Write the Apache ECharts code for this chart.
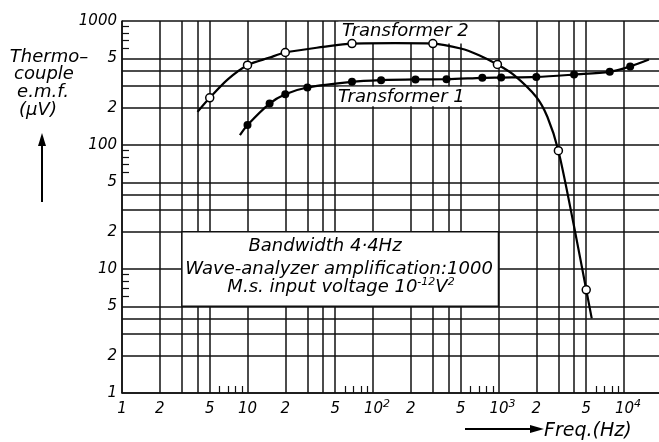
<!DOCTYPE html>
<html>
<head>
<meta charset="utf-8">
<script src="https://cdn.jsdelivr.net/npm/echarts@6/dist/echarts.min.js"></script>
<style>
html, body { margin: 0; padding: 0; background: #fff; }
#chart { width: 659px; height: 442px; }
</style>
</head>
<body>
<div id="chart"></div>
<script>
// Transformer 2 curve (open circles)
var t2CurveFreq = [4, 5, 7, 10, 15, 20, 40, 68, 150, 300, 500, 700, 980, 1330, 2000, 2450, 3000, 4000, 5000, 5530];
var t2CurveVal  = [185, 240, 340, 440, 507, 557, 618, 658, 664, 658, 600, 530, 446, 366, 244, 169, 90, 22, 6.8, 4.0];
var t2DotFreq = [5, 10, 20, 68, 300, 980, 3000, 5000];
var t2DotVal  = [240, 440, 557, 658, 658, 446, 90, 6.8];

// Transformer 1 curve (filled dots)
var t1CurveFreq = [8.7, 10, 15, 20, 30, 68, 116, 218, 385, 743, 1050, 2000, 4000, 7700, 11200, 15800];
var t1CurveVal  = [120, 145, 216, 257, 291, 323, 333, 338, 339, 348, 350, 354, 370, 389, 430, 489];
var t1DotFreq = [10, 15, 20, 30, 68, 116, 218, 385, 743, 1050, 2000, 4000, 7700, 11200];
var t1DotVal  = [145, 216, 257, 291, 323, 333, 338, 339, 348, 350, 354, 370, 389, 430];

// log paper rulings
var xGridValues = [1, 2, 3, 4, 5, 10, 20, 30, 40, 50, 100, 200, 300, 400, 500, 1000, 2000, 3000, 4000, 5000, 10000];
var xMinorValues = [6, 7, 8, 9, 60, 70, 80, 90, 600, 700, 800, 900, 6000, 7000, 8000, 9000];
var xLabelValues = [1, 2, 5, 10, 20, 50, 100, 200, 500, 1000, 2000, 5000, 10000];
var xLabelTexts = ['1', '2', '5', '10', '2', '5', '{p|}10{s|2}', '2', '5', '{p|}10{s|3}', '2', '5', '{p|}10{s|4}'];
var yGridValues = [1, 2, 3, 4, 5, 10, 20, 30, 40, 50, 100, 200, 300, 400, 500, 1000];
var yMinorValues = [6, 7, 8, 9, 60, 70, 80, 90, 600, 700, 800, 900];
var yLabelValues = [1, 2, 5, 10, 20, 50, 100, 200, 500, 1000];
var yLabelTexts = ['1', '2', '5', '10', '2', '5', '100', '2', '5', '1000'];

var FONT = 'DejaVu Sans';

function pairs(xs, ys) {
    var out = [];
    for (var i = 0; i < xs.length; i++) out.push([xs[i], ys[i]]);
    return out;
}
function pick(values, texts, v) {
    var best = 0;
    for (var i = 1; i < values.length; i++) {
        if (Math.abs(Math.log(values[i] / v)) < Math.abs(Math.log(values[best] / v))) best = i;
    }
    return texts[best];
}
function txt(x, y, s, align, size) {
    return {
        type: 'text', x: x, y: y, z: 100,
        style: { text: s, font: 'italic ' + (size || 18) + 'px ' + FONT, fill: '#000', align: align || 'center', verticalAlign: 'middle' }
    };
}

var gridLine = { color: '#111', width: 1.5 };

var chart = echarts.init(document.getElementById('chart'), null, { renderer: 'canvas' });
var option = {
    backgroundColor: '#fff',
    animation: false,
    grid: { left: 122, right: 0, top: 21, bottom: 49, outerBoundsMode: 'none' },
    xAxis: [
        {
            type: 'log', min: 1, max: 19000, position: 'bottom',
            axisLine: { show: true, lineStyle: gridLine },
            axisTick: { show: false, customValues: xGridValues },
            splitLine: { show: true, lineStyle: gridLine },
            axisLabel: {
                customValues: xLabelValues,
                margin: 6,
                fontFamily: FONT, fontStyle: 'italic', fontSize: 15, color: '#000',
                lineHeight: 20,
                formatter: function (v) { return pick(xLabelValues, xLabelTexts, v); },
                rich: {
                    s: { fontFamily: FONT, fontStyle: 'italic', fontSize: 11, lineHeight: 10, verticalAlign: 'top', color: '#000' },
                    p: { width: 8 }
                }
            }
        },
        {
            type: 'log', min: 1, max: 19000, position: 'bottom',
            axisLine: { show: false },
            axisLabel: { show: false },
            splitLine: { show: false },
            axisTick: { show: true, inside: true, length: 7, customValues: xMinorValues, lineStyle: { color: '#111', width: 1.2 } }
        }
    ],
    yAxis: [
        {
            type: 'log', min: 1, max: 1000, position: 'left',
            axisLine: { show: true, lineStyle: gridLine },
            axisTick: { show: false, customValues: yGridValues },
            splitLine: { show: true, lineStyle: gridLine },
            axisLabel: {
                customValues: yLabelValues,
                margin: 5,
                fontFamily: FONT, fontStyle: 'italic', fontSize: 15, color: '#000',
                formatter: function (v) { return pick(yLabelValues, yLabelTexts, v); }
            }
        },
        {
            type: 'log', min: 1, max: 1000, position: 'left',
            axisLine: { show: false },
            axisLabel: { show: false },
            splitLine: { show: false },
            axisTick: { show: true, inside: true, length: 7, customValues: yMinorValues, lineStyle: { color: '#111', width: 1.2 } }
        }
    ],
    series: [
        {
            // white label patches that blank out the rulings
            type: 'scatter', z: 1, data: [],
            markArea: {
                silent: true,
                label: { show: false },
                itemStyle: { color: '#fff', borderWidth: 0 },
                data: [
                    [{ coord: [53, 660] }, { coord: [960, 985] }],
                    [{ coord: [53, 205] }, { coord: [960, 295] }],
                    [{ coord: [3, 5], itemStyle: { color: '#fff', borderColor: '#111', borderWidth: 1.5 } }, { coord: [1000, 20] }]
                ]
            }
        },
        {
            name: 'Transformer 2', type: 'line', z: 3,
            data: pairs(t2CurveFreq, t2CurveVal),
            smooth: 0.3, showSymbol: false,
            lineStyle: { color: '#000', width: 2.2 }
        },
        {
            name: 'Transformer 1', type: 'line', z: 3,
            data: pairs(t1CurveFreq, t1CurveVal),
            smooth: 0.3, showSymbol: false,
            lineStyle: { color: '#000', width: 2.2 }
        },
        {
            type: 'scatter', z: 4,
            data: pairs(t2DotFreq, t2DotVal),
            symbol: 'circle', symbolSize: 8,
            itemStyle: { color: '#fff', borderColor: '#000', borderWidth: 1.5, opacity: 1 }
        },
        {
            type: 'scatter', z: 4,
            data: pairs(t1DotFreq, t1DotVal),
            symbol: 'circle', symbolSize: 8,
            itemStyle: { color: '#000', opacity: 1 }
        }
    ],
    graphic: [
        txt(342, 31, 'Transformer 2', 'left'),
        txt(338, 97, 'Transformer 1', 'left'),
        txt(325, 246, 'Bandwidth 4·4Hz'),
        txt(339, 269, 'Wave-analyzer amplification:1000'),
        {
            type: 'text', x: 341, y: 287, z: 100,
            style: {
                text: 'M.s. input voltage 10{s|-12}V{s|2}', font: 'italic 18px ' + FONT, fill: '#000',
                align: 'center', verticalAlign: 'middle', lineHeight: 20,
                rich: { s: { font: 'italic 11px ' + FONT, fill: '#000', lineHeight: 10, verticalAlign: 'top' } }
            }
        },
        txt(49, 57, 'Thermo–'),
        txt(44, 74, 'couple'),
        txt(43, 92, 'e.m.f.'),
        txt(38, 110, '(µV)'),
        { type: 'line', z: 100, shape: { x1: 42, y1: 202, x2: 42, y2: 143 }, style: { stroke: '#000', lineWidth: 2 } },
        { type: 'polygon', z: 100, shape: { points: [[42, 133], [38, 146], [46, 146]] }, style: { fill: '#000' } },
        { type: 'line', z: 100, shape: { x1: 465, y1: 429, x2: 532, y2: 429 }, style: { stroke: '#000', lineWidth: 2 } },
        { type: 'polygon', z: 100, shape: { points: [[544, 429], [530, 425], [530, 433]] }, style: { fill: '#000' } },
        txt(544, 431, 'Freq.(Hz)', 'left', 19)
    ]
};
chart.setOption(option, true);
</script>
</body>
</html>
